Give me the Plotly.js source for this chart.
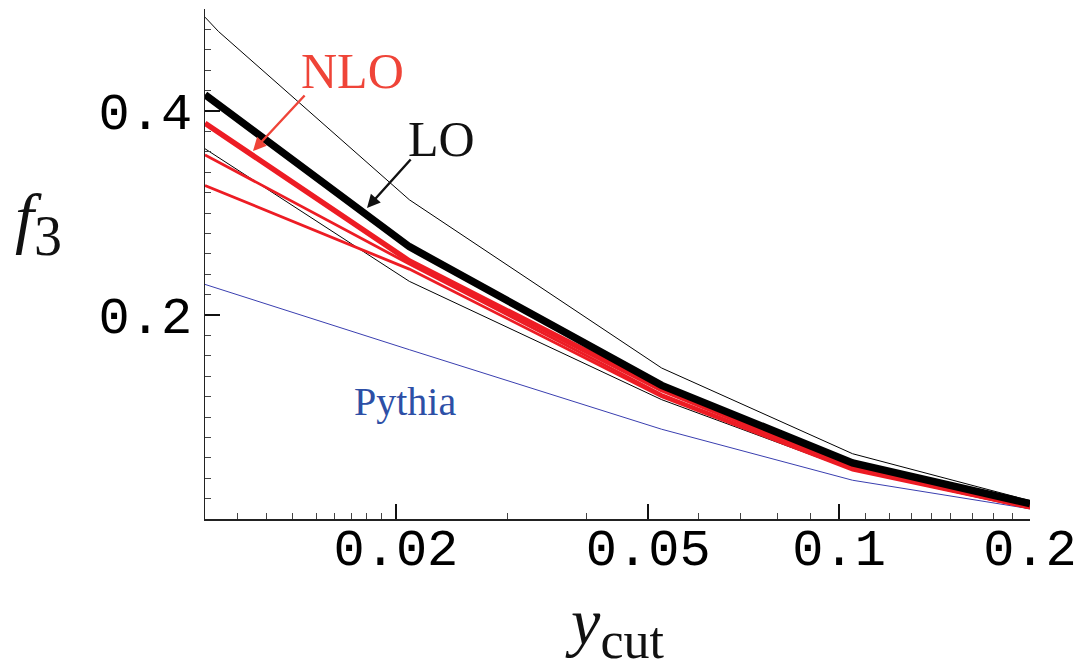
<!DOCTYPE html>
<html>
<head>
<meta charset="utf-8">
<script src="https://cdn.plot.ly/plotly-3.0.1.min.js"></script>
<style>
  html, body { margin: 0; padding: 0; background: #ffffff; }
  #chart { width: 1086px; height: 669px; }
</style>
</head>
<body>
<div id="chart"></div>
<script>
// y_cut sample points
const yCut = [0.01, 0.021, 0.0525, 0.105, 0.2];
const yCutLoUpper = [0.01, 0.0105, 0.021, 0.0525, 0.105, 0.2];

// f3 values per curve
const loUpper    = [0.492, 0.478, 0.313, 0.148, 0.064, 0.018];
const loCentral  = [0.416, 0.267, 0.131, 0.055, 0.015];
const loLower    = [0.363, 0.233, 0.117, 0.048, 0.012];
const nloCentral = [0.388, 0.253, 0.127, 0.051, 0.012];
const nloVarA    = [0.357, 0.250, 0.122, 0.049, 0.011];
const nloVarB    = [0.327, 0.245, 0.120, 0.048, 0.011];
const pythia     = [0.230, 0.166, 0.088, 0.038, 0.010];

// axis ticks
const xTickVals = [0.02, 0.05, 0.1, 0.2];
const xTickText = ['0.02', '0.05', '0.1', '0.2'];
const xMinorVals = [0.01125, 0.0125, 0.01375, 0.015, 0.016, 0.017, 0.018, 0.019,
                    0.03, 0.04, 0.06, 0.07, 0.08, 0.09,
                    0.11, 0.12, 0.13, 0.14, 0.15, 0.1625, 0.175, 0.1875];
const yTickVals = [0.2, 0.4];
const yTickText = ['0.2', '0.4'];

const RED = '#ed1c24';
const BLUE = '#3a3fb0';

function line(x, y, color, width) {
  return { x: x, y: y, type: 'scatter', mode: 'lines',
           line: { color: color, width: width }, hoverinfo: 'skip', showlegend: false };
}

const traces = [
  line(yCutLoUpper, loUpper, '#000000', 1),
  line(yCut, loLower, '#000000', 1),
  line(yCut, pythia, BLUE, 1),
  line(yCut, nloVarB, RED, 2.8),
  line(yCut, nloVarA, RED, 2.8),
  line(yCut, nloCentral, RED, 5.5),
  line(yCut, loCentral, '#000000', 7.5)
];

// plot-area frame in pixels, used to place the labels
const L = 205, R = 1030, T = 9, B = 519;
const px = v => (v - L) / (R - L);
const py = v => (B - v) / (B - T);

const serif = 'Liberation Serif, Times New Roman, serif';
const mono = 'Liberation Mono, DejaVu Sans Mono, monospace';

const annotations = [
  { xref: 'paper', yref: 'paper', x: px(352), y: py(71), text: 'NLO', showarrow: false,
    xanchor: 'center', yanchor: 'middle', font: { family: serif, size: 50, color: '#ef4438' } },
  { xref: 'paper', yref: 'paper', x: px(253), y: py(151), text: '', showarrow: true,
    ax: 53, ay: -57, arrowhead: 2, arrowsize: 1.1, arrowwidth: 2.4, arrowcolor: '#ef4438' },
  { xref: 'paper', yref: 'paper', x: px(441), y: py(138.5), text: 'LO', showarrow: false,
    xanchor: 'center', yanchor: 'middle', font: { family: serif, size: 50, color: '#111111' } },
  { xref: 'paper', yref: 'paper', x: px(367), y: py(208), text: '', showarrow: true,
    ax: 45, ay: -50, arrowhead: 2, arrowsize: 1.1, arrowwidth: 2.4, arrowcolor: '#111111' },
  { xref: 'paper', yref: 'paper', x: px(405), y: py(401.5), text: 'Pythia', showarrow: false,
    xanchor: 'center', yanchor: 'middle', font: { family: serif, size: 40, color: '#2d4fa6' } },
  { xref: 'paper', yref: 'paper', x: px(13), y: py(224), showarrow: false,
    text: '<i>f</i><sub><span style="font-size:56px">3</span></sub>',
    xanchor: 'left', yanchor: 'middle', font: { family: serif, size: 68, color: '#111111' } }
];

const layout = {
  width: 1086, height: 669,
  margin: { l: L, r: 1086 - R, t: T, b: 669 - B, pad: 0 },
  paper_bgcolor: '#ffffff', plot_bgcolor: '#ffffff',
  showlegend: false,
  xaxis: {
    type: 'log', range: [Math.log10(0.01), Math.log10(0.2)],
    showgrid: false, zeroline: false,
    showline: true, linecolor: '#222222', linewidth: 1.5, mirror: false,
    ticks: 'inside', ticklen: 15, tickwidth: 2.5, tickcolor: '#111111',
    tickmode: 'array', tickvals: xTickVals, ticktext: xTickText,
    ticklabelstandoff: -18,
    tickfont: { family: mono, size: 52, color: '#000000' },
    minor: { tickmode: 'array', tickvals: xMinorVals, ticks: 'inside',
             ticklen: 6, tickwidth: 1, tickcolor: '#444444', showgrid: false },
    title: { text: '<i>y</i><sub><span style="font-size:52px">cut</span></sub>', standoff: 44,
             font: { family: serif, size: 66, color: '#111111' } }
  },
  yaxis: {
    range: [0, 0.5],
    showgrid: false, zeroline: false,
    showline: true, linecolor: '#222222', linewidth: 1.5, mirror: false,
    ticks: 'inside', ticklen: 15, tickwidth: 2.5, tickcolor: '#111111',
    tickmode: 'array', tickvals: yTickVals, ticktext: yTickText,
    ticklabelstandoff: 1,
    tickfont: { family: mono, size: 52, color: '#000000' },
    minor: { tick0: 0, dtick: 0.02, ticks: 'inside',
             ticklen: 6, tickwidth: 1, tickcolor: '#444444', showgrid: false }
  },
  annotations: annotations
};

Plotly.newPlot('chart', traces, layout, { staticPlot: true, displayModeBar: false });
</script>
</body>
</html>
